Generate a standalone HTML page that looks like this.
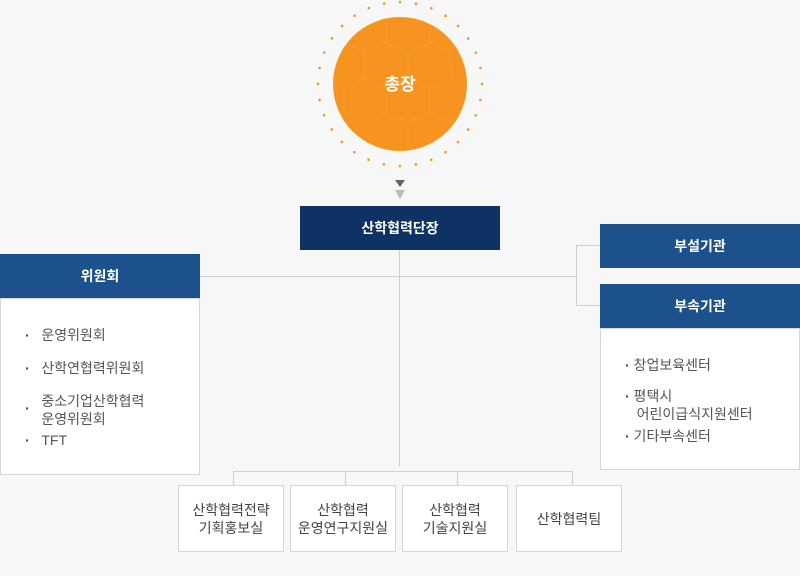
<!DOCTYPE html>
<html><head><meta charset="utf-8"><style>
body{margin:0;background:#f7f7f7;width:800px;height:576px;position:relative;overflow:hidden;font-family:"Liberation Sans","Noto Sans CJK KR",sans-serif}
.a{position:absolute;box-sizing:border-box}
.h{color:#fff;font-size:14px;font-weight:bold;display:flex;align-items:center;justify-content:center;background:#1d518b}
.b{background:#fff;border:1px solid #d6d6d6;color:#555;font-size:14px}
.l{position:absolute;background:#cfcfcf}
.bt{display:flex;align-items:center;justify-content:center;text-align:center;line-height:18px;color:#444;font-size:14px;background:#fff;border:1px solid #d6d6d6}
ul{margin:0;padding:0;list-style:none}
.d{font-weight:bold;color:#444}
</style></head><body>
<svg class="a" style="left:0;top:0" width="800" height="210">
<defs><clipPath id="c"><circle cx="400" cy="84" r="67"/></clipPath></defs>
<circle cx="400" cy="84" r="82" fill="none" stroke="#f4941e" stroke-width="2.6" stroke-dasharray="0 16.1" stroke-linecap="round" transform="rotate(-90 400 84)"/>
<circle cx="400" cy="84" r="67" fill="#f6941f"/>
<g clip-path="url(#c)" stroke="#fba94a" stroke-width="0.8" fill="none" opacity="0.5">
<path d="M386 17 L386 43 L365 52 L344 43 M386 43 L408 52 L408 78 L386 88 L365 78 L365 52 M408 52 L430 43 L430 17 M430 43 L451 52 L451 78 L430 88 L408 78 M386 88 L386 113 L365 122 L344 113 L344 88 L365 78 M386 113 L408 122 L408 148 M430 88 L430 113 L408 122 M430 113 L451 122 L451 148"/>
</g>
<text x="400" y="90" text-anchor="middle" fill="#fff" font-size="17" font-weight="bold" font-family="Liberation Sans,Noto Sans CJK KR,sans-serif">총장</text>
<polygon points="395,180 405,180 400,187" fill="#666"/>
<polygon points="395,190 405,190 400,199" fill="#bbb"/>
</svg>
<div class="a h" style="left:300px;top:206px;width:200px;height:44px;background:#0e3263">산학협력단장</div>
<div class="l" style="left:399px;top:250px;width:1px;height:216px"></div>
<div class="l" style="left:200px;top:276px;width:376px;height:1px"></div>
<div class="l" style="left:576px;top:245px;width:1px;height:61px"></div>
<div class="l" style="left:576px;top:245px;width:24px;height:1px"></div>
<div class="l" style="left:576px;top:305px;width:24px;height:1px"></div>
<div class="l" style="left:233px;top:471px;width:340px;height:1px"></div>
<div class="l" style="left:233px;top:471px;width:1px;height:14px"></div>
<div class="l" style="left:345px;top:471px;width:1px;height:14px"></div>
<div class="l" style="left:457px;top:471px;width:1px;height:14px"></div>
<div class="l" style="left:572px;top:471px;width:1px;height:14px"></div>
<div class="a h" style="left:0;top:254px;width:200px;height:44px">위원회</div>
<div class="a b" style="left:0;top:298px;width:200px;height:177px;padding:27px 0 0 24px">
<ul style="line-height:18px">
<li style="margin-bottom:15px"><span class="d">·</span>&nbsp;&nbsp;&nbsp;운영위원회</li>
<li style="margin-bottom:15px"><span class="d">·</span>&nbsp;&nbsp;&nbsp;산학연협력위원회</li>
<li style="margin-bottom:3px;display:flex"><span style="padding-top:7px"><span class="d">·</span>&nbsp;&nbsp;&nbsp;</span><span>중소기업산학협력<br>운영위원회</span></li>
<li><span class="d">·</span>&nbsp;&nbsp;&nbsp;TFT</li></ul></div>
<div class="a h" style="left:600px;top:224px;width:200px;height:44px">부설기관</div>
<div class="a h" style="left:600px;top:284px;width:200px;height:44px">부속기관</div>
<div class="a b" style="left:600px;top:328px;width:200px;height:142px;padding:27px 0 0 24px">
<ul style="line-height:18px">
<li style="margin-bottom:13px"><span class="d">·</span> 창업보육센터</li>
<li style="margin-bottom:4px"><span class="d">·</span> 평택시<br>&nbsp;&nbsp;&nbsp;어린이급식지원센터</li>
<li><span class="d">·</span> 기타부속센터</li></ul></div>
<div class="a bt" style="left:178px;top:485px;width:106px;height:67px">산학협력전략<br>기획홍보실</div>
<div class="a bt" style="left:290px;top:485px;width:106px;height:67px">산학협력<br>운영연구지원실</div>
<div class="a bt" style="left:402px;top:485px;width:106px;height:67px">산학협력<br>기술지원실</div>
<div class="a bt" style="left:516px;top:485px;width:106px;height:67px">산학협력팀</div>
</body></html>
